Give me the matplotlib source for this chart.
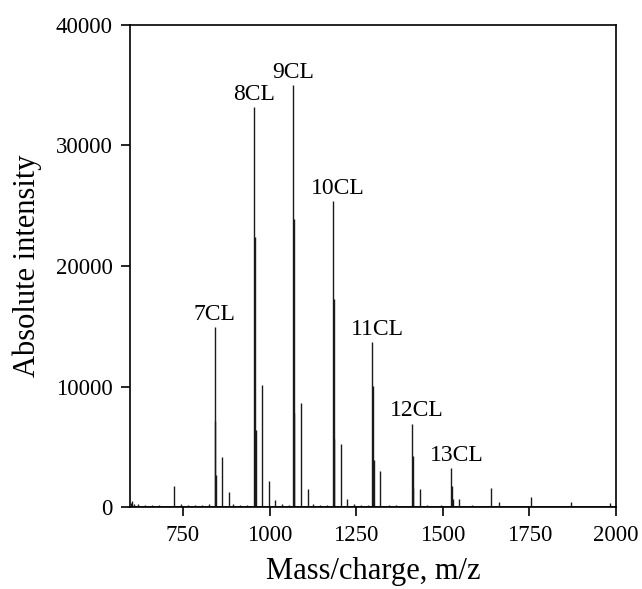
import matplotlib.pyplot as plt

# main cluster peaks (n CL)
cluster_labels = ["7CL", "8CL", "9CL", "10CL", "11CL", "12CL", "13CL"]
cluster_mz = [841, 956, 1067, 1183, 1297, 1411, 1525]
cluster_int = [14950, 33200, 35000, 25350, 13700, 6950, 3270]

# isotope neighbours of the main peaks (+2, +4 m/z)
iso1_int = [7200, 22400, 23900, 17300, 10100, 4300, 1800]
iso2_int = [2700, 6400, 7800, 5700, 3900, 1600, 700]

# secondary peaks
side_mz = [604, 725, 863, 882, 978, 997, 1017, 1090, 1111, 1205, 1224,
           1319, 1433, 1547, 1639, 1662, 1754, 1869, 1983]
side_int = [500, 1750, 4150, 1280, 10150, 2200, 600, 8650, 1560, 5250, 680,
            3050, 1560, 740, 1640, 480, 860, 480, 380]

# small baseline signals
noise_mz = [600, 608, 620, 640, 660, 680, 700, 745, 765, 785, 805, 825,
            895, 915, 935, 1035, 1055, 1125, 1145, 1165, 1245, 1265, 1285,
            1345, 1365, 1385, 1455, 1475, 1495, 1565, 1585, 1605, 1625,
            1685, 1705, 1725, 1785, 1805, 1835, 1905, 1945, 1970]
noise_int = [350, 300, 250, 200, 180, 200, 150, 300, 200, 220, 200, 250,
             250, 180, 200, 300, 180, 250, 200, 180, 250, 200, 180,
             200, 180, 150, 200, 150, 180, 150, 180, 120, 150,
             150, 120, 130, 130, 120, 100, 100, 100, 100]

plt.rcParams["font.family"] = ["Liberation Serif", "DejaVu Serif"]

fig = plt.figure(figsize=(6.42, 5.89), dpi=100)
ax = fig.add_axes([0.2025, 0.1384, 0.757, 0.820])

iso1_mz = [m + 2 for m in cluster_mz]
iso2_mz = [m + 4 for m in cluster_mz]
all_mz = cluster_mz + iso1_mz + iso2_mz + side_mz + noise_mz
all_int = cluster_int + iso1_int + iso2_int + side_int + noise_int
ax.vlines(all_mz, 0, all_int, colors="#1a1a1a", linewidth=1.0)
ax.axhline(70, color="#1a1a1a", linewidth=1.2)

for lab, mz, h in zip(cluster_labels, cluster_mz, cluster_int):
    dx = 3.6 if len(lab) > 3 else 0
    ax.annotate(lab, (mz, h), xytext=(dx, 1.5), textcoords="offset points",
                ha="center", va="bottom", fontsize=17)

ax.set_xlim(597, 2000)
ax.set_ylim(0, 40000)
ax.set_xticks([750, 1000, 1250, 1500, 1750, 2000])
ax.set_yticks([0, 10000, 20000, 30000, 40000])
ax.tick_params(axis="both", direction="out", labelsize=16.5, width=1.2,
               length=6.5, pad=6)
for s in ax.spines.values():
    s.set_linewidth(1.2)

ax.set_xlabel("Mass/charge, m/z", fontsize=22, labelpad=8)
ax.set_ylabel("Absolute intensity", fontsize=22, labelpad=10)

fig.savefig("out.png", dpi=100)
